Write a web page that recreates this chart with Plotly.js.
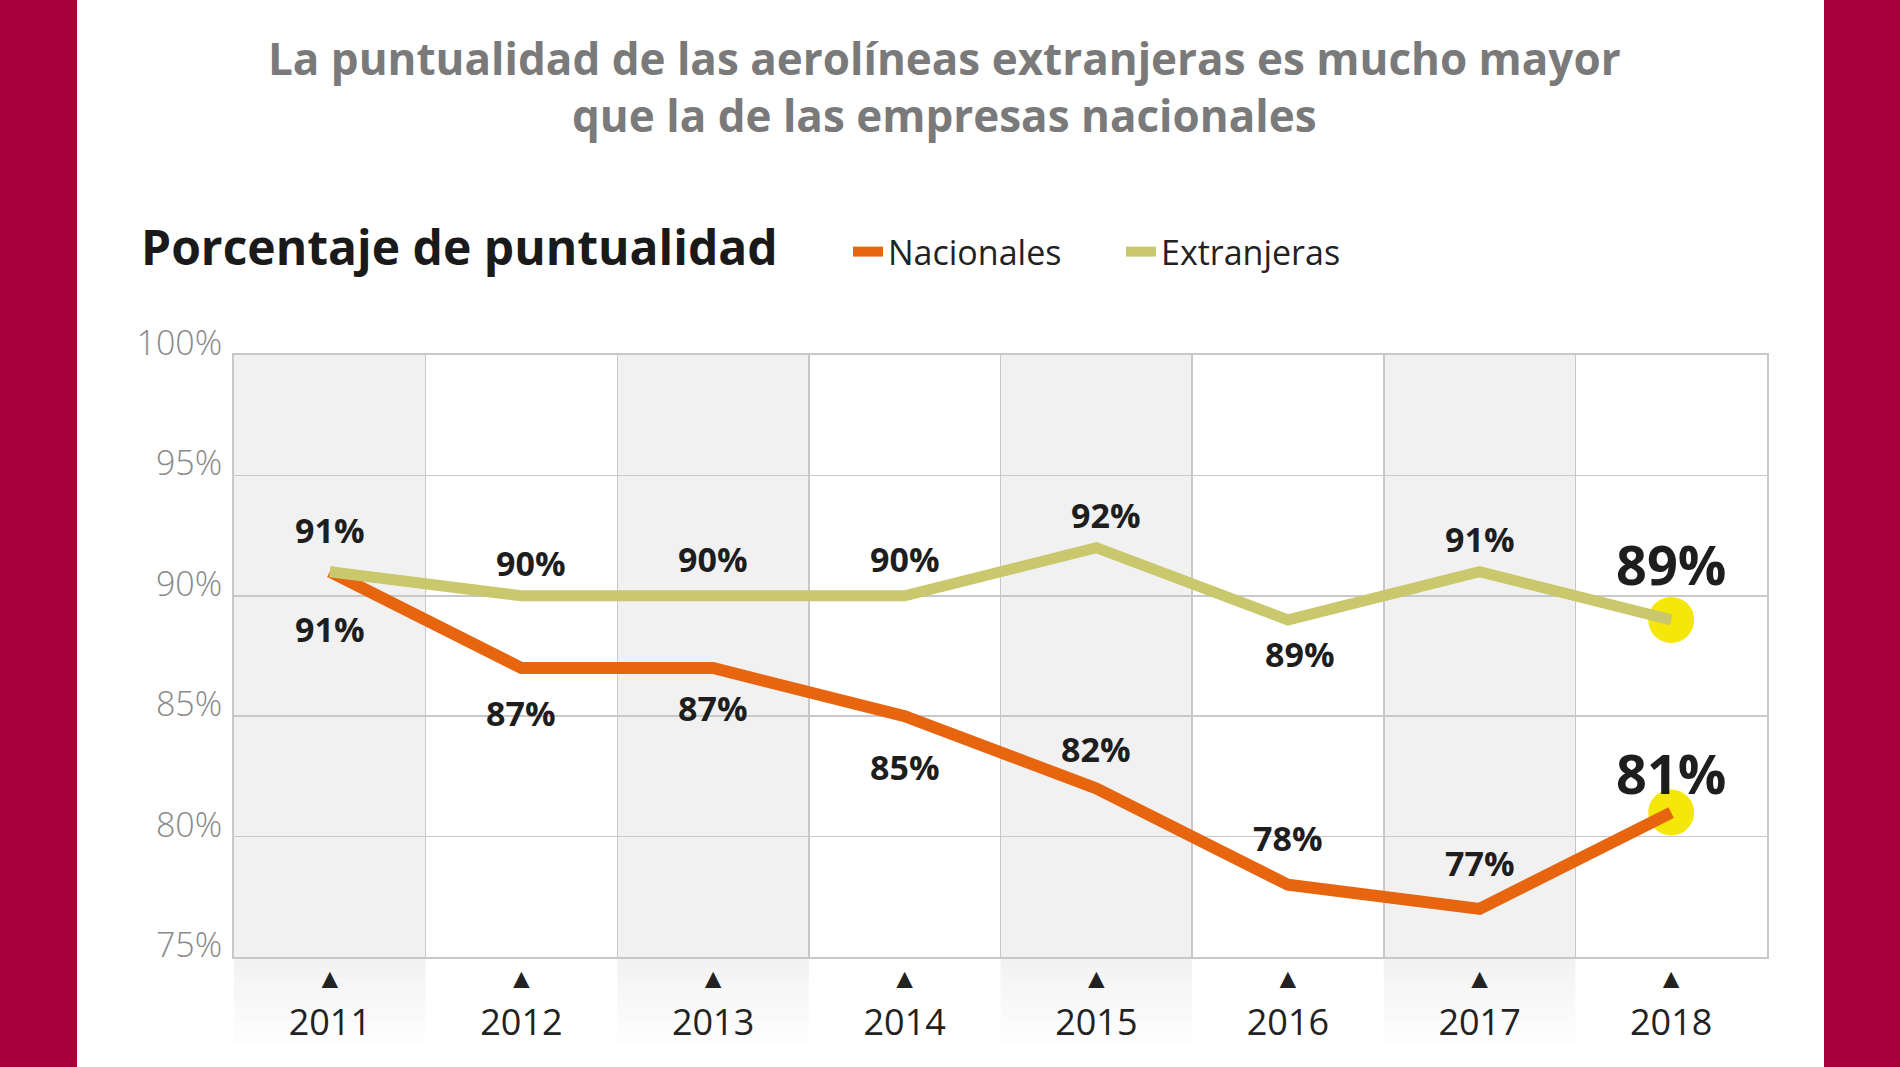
<!DOCTYPE html>
<html>
<head>
<meta charset="utf-8">
<script src="https://cdn.plot.ly/plotly-3.0.1.min.js"></script>
<style>
  html, body { margin: 0; padding: 0; background: #ffffff; }
  #chart { width: 1900px; height: 1067px; }
</style>
</head>
<body>
<div id="chart"></div>
<script>
// ---- data ----
const years = [2011, 2012, 2013, 2014, 2015, 2016, 2017, 2018];
const nacionales = [91, 87, 87, 85, 82, 78, 77, 81];
const extranjeras = [91, 90, 90, 90, 92, 89, 91, 89];
const yTickVals = [75, 80, 85, 90, 95, 100];
const yTickText = ['75%', '80%', '85%', '90%', '95%', '100%'];
const seriesNames = ['Nacionales', 'Extranjeras'];
const titleText = 'La puntualidad de las aerolíneas extranjeras es mucho mayor<br>que la de las empresas nacionales';
const subtitleText = 'Porcentaje de puntualidad';

// ---- style ----
const orange = '#e8650f';
const olive = '#c9c86c';
const crimson = '#a8003a';
const gridColor = '#c8c8c8';
const FONT = 'Open Sans, Lato, sans-serif';

// label offsets in px (layout only)
const extOffsets = [[0, 42], [10, 33], [0, 37], [0, 37], [10, 33], [12, -34], [0, 33], [0, 56]];
const nacOffsets = [[0, -57], [0, -45], [0, -40], [0, -51], [0, 39], [0, 47], [0, 46], [0, 40]];

const last = years.length - 1;

const traces = [
  {
    x: [years[last], years[last]],
    y: [extranjeras[last], nacionales[last]],
    mode: 'markers',
    marker: { size: 46, color: '#f5e70a' },
    showlegend: false,
    hoverinfo: 'skip',
    cliponaxis: false
  },
  {
    x: years, y: nacionales, name: seriesNames[0],
    mode: 'lines', line: { color: orange, width: 12 },
    cliponaxis: false
  },
  {
    x: years, y: extranjeras, name: seriesNames[1],
    mode: 'lines', line: { color: olive, width: 11 },
    cliponaxis: false
  }
];

const shapes = [];
// red side bands
shapes.push({ type: 'rect', xref: 'paper', yref: 'paper', x0: -0.16, x1: (77 - 234) / 1533, y0: -0.3, y1: 1.7, fillcolor: crimson, line: { width: 0 }, layer: 'below' });
shapes.push({ type: 'rect', xref: 'paper', yref: 'paper', x0: (1824 - 234) / 1533, x1: 1.1, y0: -0.3, y1: 1.7, fillcolor: crimson, line: { width: 0 }, layer: 'below' });
// shaded alternate columns + fade below axis
years.forEach((yr, i) => {
  if (i % 2 === 0) {
    shapes.push({ type: 'rect', xref: 'x', yref: 'paper', x0: yr - 0.5, x1: yr + 0.5, y0: 0, y1: 1, fillcolor: '#f1f1f1', line: { width: 0 }, layer: 'below' });
    const steps = 8;
    for (let s = 0; s < steps; s++) {
      const op = 0.9 * (1 - s / steps);
      shapes.push({ type: 'rect', xref: 'x', yref: 'paper', x0: yr - 0.5, x1: yr + 0.5,
        y0: -(s + 1) * 0.018, y1: -s * 0.018, fillcolor: 'rgba(241,241,241,' + op.toFixed(2) + ')', line: { width: 0 }, layer: 'below' });
    }
  }
});

const annotations = [];
annotations.push({
  xref: 'paper', yref: 'paper', x: (139 - 234) / 1533, y: (957 - 246) / 602,
  xanchor: 'left', yanchor: 'middle', showarrow: false,
  text: '<b>' + subtitleText + '</b>',
  font: { family: FONT, size: 48, color: '#1a1a1a' }
});
years.forEach((yr, i) => {
  const big = i === last;
  annotations.push({
    xref: 'x', yref: 'y', x: yr, y: extranjeras[i], showarrow: false,
    text: '<b>' + extranjeras[i] + '%</b>',
    xshift: extOffsets[i][0], yshift: extOffsets[i][1],
    font: { family: FONT, size: big ? 54 : 34, color: '#1e1e1e' }
  });
  annotations.push({
    xref: 'x', yref: 'y', x: yr, y: nacionales[i], showarrow: false,
    text: '<b>' + nacionales[i] + '%</b>',
    xshift: nacOffsets[i][0], yshift: nacOffsets[i][1],
    font: { family: FONT, size: big ? 54 : 34, color: '#1e1e1e' }
  });
});

const layout = {
  width: 1900, height: 1067,
  paper_bgcolor: '#ffffff', plot_bgcolor: '#ffffff',
  margin: { l: 234, r: 133, t: 355, b: 110 },
  title: {
    text: '<b>' + titleText + '</b>',
    x: 0.497, xanchor: 'center', xref: 'container',
    y: 0.93, yanchor: 'top', yref: 'container',
    font: { family: FONT, size: 44, color: '#7a7a7a' }
  },
  showlegend: true,
  legend: {
    orientation: 'h', x: (848 - 234) / 1533, xanchor: 'left',
    y: (957 - 252) / 602, yanchor: 'middle',
    font: { family: FONT, size: 34, color: '#222' },
    itemwidth: 30, entrywidth: 228, entrywidthmode: 'pixels',
    bgcolor: 'rgba(0,0,0,0)', traceorder: 'normal'
  },
  xaxis: {
    range: [years[0] - 0.5, years[last] + 0.5],
    tickvals: years,
    ticktext: years.map(y => '<span style="font-size:28px">▲</span><br>' + y),
    tickfont: { family: FONT, size: 36, color: '#222' },
    showgrid: false, zeroline: false,
    showline: true, mirror: true, linecolor: gridColor, linewidth: 2,
    ticks: '', ticklabelstandoff: -14,
    minor: { tickvals: years.slice(1).map(y => y - 0.5), showgrid: true, gridcolor: gridColor, gridwidth: 1.5, ticks: '' },
    fixedrange: true
  },
  yaxis: {
    range: [75, 100],
    tickvals: yTickVals, ticktext: yTickText,
    tickfont: { family: FONT, size: 34, color: '#8a8a8a', weight: 300 },
    showgrid: true, gridcolor: gridColor, gridwidth: 1.5,
    zeroline: false, showline: true, mirror: true, linecolor: gridColor, linewidth: 2,
    ticks: '', ticklabelstandoff: 3, ticklabelshift: -12,
    fixedrange: true
  },
  shapes: shapes,
  annotations: annotations
};

Plotly.newPlot('chart', traces, layout, { displayModeBar: false, staticPlot: true });
</script>
</body>
</html>
